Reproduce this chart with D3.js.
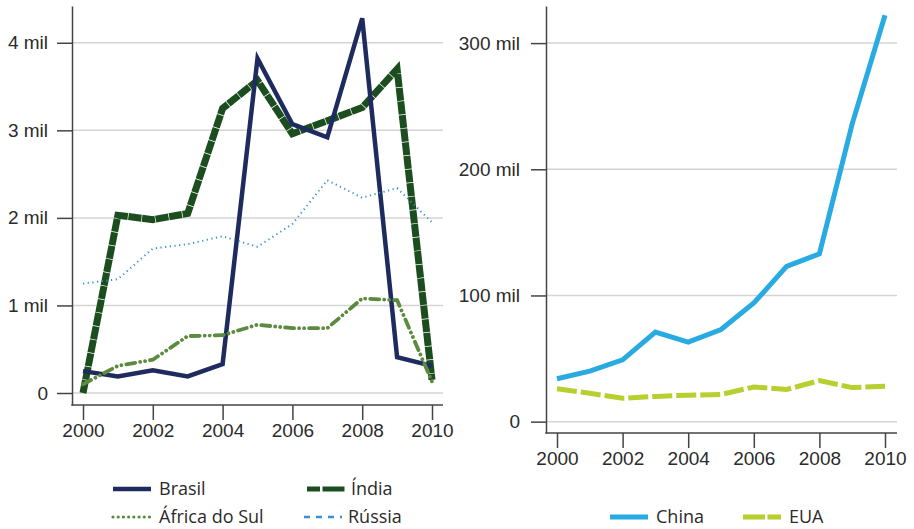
<!DOCTYPE html>
<html>
<head>
<meta charset="utf-8">
<script src="https://cdn.jsdelivr.net/npm/d3@7"></script>
<style>
  html, body { margin: 0; padding: 0; background: #fff; }
  svg { display: block; font-family: "Open Sans", "Noto Sans", sans-serif; }
  .tick text { fill: #2b2b2b; font-size: 19px; }
</style>
</head>
<body>
<svg id="chart" width="914" height="529"></svg>
<script>
const years = [2000, 2001, 2002, 2003, 2004, 2005, 2006, 2007, 2008, 2009, 2010];
const yearTicks = [2000, 2002, 2004, 2006, 2008, 2010];

// Left panel
const brasil    = [250, 190, 260, 190, 330, 3820, 3070, 2920, 4280, 410, 310];
const india     = [0, 2030, 1980, 2050, 3250, 3570, 2960, 3110, 3260, 3700, 150];
const africaSul = [100, 310, 380, 650, 660, 780, 740, 740, 1080, 1060, 130];
const russia    = [1250, 1300, 1650, 1700, 1790, 1670, 1930, 2430, 2230, 2340, 1950];
const leftTicks = [0, 1000, 2000, 3000, 4000];

// Right panel
const china = [34000, 40000, 49000, 71000, 63000, 73000, 94000, 123000, 133000, 236000, 322000];
const eua   = [26000, 22500, 18500, 20000, 21000, 21500, 27500, 25500, 32500, 27000, 28000];
const rightTicks = [0, 100000, 200000, 300000];

const fmt = v => v === 0 ? "0" : (v / 1000) + " mil";

const svg = d3.select("#chart");

function panel(cfg) {
  const g = svg.append("g");
  const x = d3.scaleLinear().domain([2000, 2010]).range([cfg.x0, cfg.x1]);
  const y = d3.scaleLinear().domain(cfg.yDomain).range([cfg.bottom, cfg.top]);

  // gridlines
  g.append("g").selectAll("line").data(cfg.ticks).join("line")
    .attr("x1", cfg.axisX).attr("x2", cfg.gridEnd)
    .attr("y1", d => y(d)).attr("y2", d => y(d))
    .attr("stroke", "#d4d4d4").attr("stroke-width", 1.5);

  // y axis
  const ya = g.append("g").attr("transform", `translate(${cfg.axisX},0)`)
    .call(d3.axisLeft(y).tickValues(cfg.ticks).tickFormat(fmt).tickSize(15).tickSizeOuter(0).tickPadding(cfg.yPad));
  ya.select(".domain").attr("stroke", "#444").attr("stroke-width", 1.5);
  ya.selectAll(".tick line").attr("stroke", "#444").attr("stroke-width", 1.5);

  // x axis
  const xa = g.append("g").attr("transform", `translate(0,${cfg.bottom})`)
    .call(d3.axisBottom(x).tickValues(yearTicks).tickFormat(d3.format("d")).tickSize(15).tickSizeOuter(0).tickPadding(4));
  xa.select(".domain").remove();
  xa.selectAll(".tick line").attr("stroke", "#444").attr("stroke-width", 1.5);
  g.append("line").attr("x1", cfg.axisX - 0.75).attr("x2", cfg.gridEnd)
    .attr("y1", cfg.bottom).attr("y2", cfg.bottom)
    .attr("stroke", "#444").attr("stroke-width", 1.5);

  const line = d3.line().x((d, i) => x(years[i])).y(d => y(d));
  cfg.series.forEach(s => {
    g.append("path").datum(s.values)
      .attr("d", line)
      .attr("fill", "none")
      .attr("stroke", s.color)
      .attr("stroke-width", s.width)
      .attr("stroke-dasharray", s.dash || null)
      .attr("stroke-linecap", s.cap || "butt")
      .attr("stroke-linejoin", "miter");
  });
}

const S = {
  brasil: { color: "#1d2b5e", width: 4.5 },
  india:  { color: "#1c4d1f", width: 7, dash: "13,0.7" },
  africa: { color: "#5c8a3f", width: 3.8, dash: "9,5,0.01,5,0.01,5", cap: "round" },
  russia: { color: "#3b8fd3", width: 2, dash: "1.2,3.5" },
  china:  { color: "#29abe2", width: 5 },
  eua:    { color: "#b8cf30", width: 5, dash: "20,4" }
};

panel({
  x0: 83, x1: 432, axisX: 72, gridEnd: 443, top: 6, bottom: 405,
  yDomain: [-137, 4420], ticks: leftTicks, yPad: 9,
  series: [
    Object.assign({ values: india }, S.india),
    Object.assign({ values: brasil }, S.brasil),
    Object.assign({ values: africaSul }, S.africa),
    Object.assign({ values: russia }, S.russia)
  ]
});

panel({
  x0: 557, x1: 885, axisX: 546, gridEnd: 897, top: 6, bottom: 433,
  yDomain: [-9000, 329400], ticks: rightTicks, yPad: 11,
  series: [
    Object.assign({ values: china }, S.china),
    Object.assign({ values: eua }, S.eua)
  ]
});

// Legends
const legendItems = [
  { label: "Brasil", x: 113, y: 489, s: S.brasil },
  { label: "Índia", x: 307, y: 489, s: S.india, dash: "13,2.5,22" },
  { label: "África do Sul", x: 113, y: 517, s: S.africa, dash: "0.01,5.2", width: 3.2 },
  { label: "Rússia", x: 304, y: 517, s: S.russia, dash: "6,6", width: 2.5 },
  { label: "China", x: 610, y: 517, s: S.china },
  { label: "EUA", x: 743, y: 517, s: S.eua, dash: "22,2.5" }
];
const lg = svg.append("g");
legendItems.forEach(it => {
  const len = 38;
  lg.append("line")
    .attr("x1", it.x).attr("x2", it.x + len)
    .attr("y1", it.y).attr("y2", it.y)
    .attr("stroke", it.s.color)
    .attr("stroke-width", it.width || Math.min(it.s.width, 5))
    .attr("stroke-dasharray", it.dash || null)
    .attr("stroke-linecap", it.s.cap || "butt");
  lg.append("text")
    .attr("x", it.x + len + (it.x > 300 && it.x < 400 ? 6 : 8))
    .attr("y", it.y)
    .attr("dy", "0.35em")
    .attr("fill", "#2b2b2b")
    .attr("font-size", 18)
    .text(it.label);
});
</script>
</body>
</html>
